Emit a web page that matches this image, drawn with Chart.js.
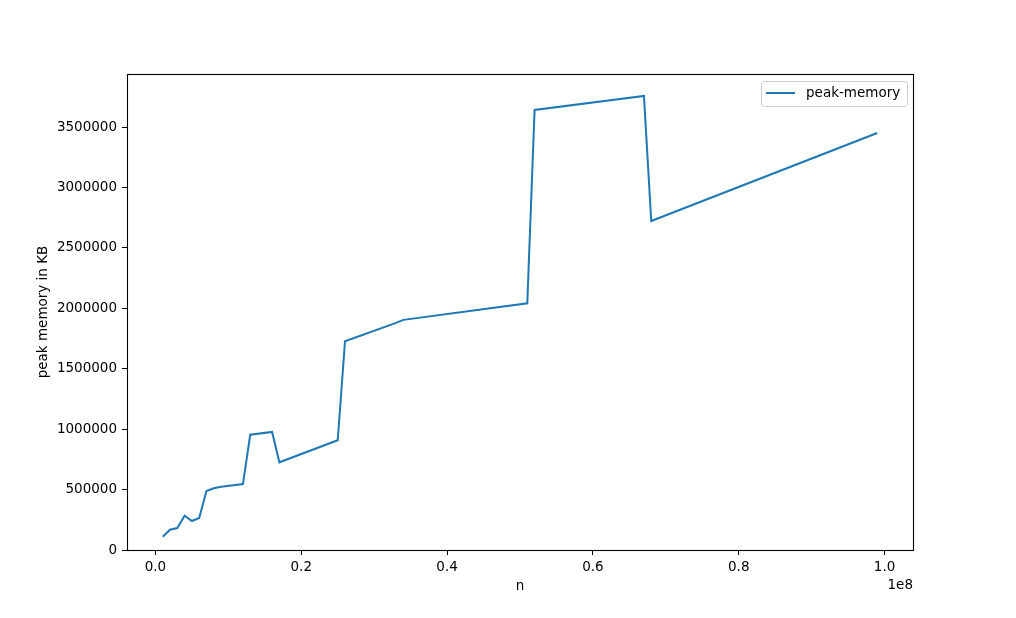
<!DOCTYPE html>
<html>
<head>
<meta charset="utf-8">
<script src="https://cdn.jsdelivr.net/npm/chart.js@4"></script>
<style>
  html, body { margin: 0; padding: 0; background: #fff; }
  canvas { display: block; }
</style>
</head>
<body>
<canvas id="memChart" width="1016" height="618"></canvas>
<script>
// values
const nValues = [1e6, 2e6, 3e6, 4e6, 5e6, 6e6, 7e6, 8e6, 9e6, 12e6, 13e6, 16e6, 17e6,
  25e6, 26e6, 33e6, 34e6, 51e6, 52e6, 67e6, 68e6, 99e6];
const peakMemory = [110000, 168000, 182000, 284000, 240000, 265000, 488000, 511000, 524000,
  546000, 954000, 977000, 726000, 908000, 1728000, 1880000, 1905000, 2042000, 3642000,
  3758000, 2723000, 3452000];
const xTicks = [0, 2e7, 4e7, 6e7, 8e7, 1e8];
const xTickLabels = ['0.0', '0.2', '0.4', '0.6', '0.8', '1.0'];
const yTicks = [0, 500000, 1000000, 1500000, 2000000, 2500000, 3000000, 3500000];
const seriesLabel = 'peak-memory';

const lineColor = '#1f77b4';
const font = { family: 'DejaVu Sans', size: 13.5 };

let ctx = document.getElementById('memChart').getContext('2d');

// box around the plot, the "1e8" offset text and the matplotlib-style legend
const framePlugin = {
  id: 'frame',
  afterDraw(chart) {
    const c = chart.ctx;
    const a = chart.chartArea;
    c.save();
    c.strokeStyle = '#000';
    c.lineWidth = 1.1;
    c.strokeRect(Math.round(a.left) + 0.5, Math.round(a.top) + 0.5,
      Math.round(a.right - a.left), Math.round(a.bottom - a.top));

    c.fillStyle = '#000';
    c.font = '13.5px "DejaVu Sans"';
    c.textAlign = 'right';
    c.textBaseline = 'middle';
    c.fillText('1e8', a.right, 585);

    // legend
    const bx = a.right - 152, by = a.top + 7, bw = 146, bh = 25;
    c.fillStyle = 'rgba(255,255,255,0.8)';
    c.strokeStyle = '#cccccc';
    c.lineWidth = 1;
    c.beginPath();
    c.roundRect(bx + 0.5, by + 0.5, bw, bh, 3);
    c.fill();
    c.stroke();
    c.strokeStyle = lineColor;
    c.lineWidth = 2;
    c.beginPath();
    c.moveTo(bx + 5, by + 12);
    c.lineTo(bx + 34, by + 12);
    c.stroke();
    c.fillStyle = '#000';
    c.textAlign = 'left';
    c.fillText(seriesLabel, bx + 45, by + 12.5);
    c.restore();
  }
};

new Chart(ctx, {
  type: 'line',
  data: {
    datasets: [{
      label: seriesLabel,
      data: nValues.map((n, i) => ({ x: n, y: peakMemory[i] })),
      borderColor: lineColor,
      borderWidth: 2,
      pointRadius: 0,
      tension: 0,
      fill: false
    }]
  },
  options: {
    responsive: false,
    animation: false,
    layout: { padding: { top: 74, right: 103, left: 0, bottom: 0 } },
    plugins: {
      legend: { display: false },
      tooltip: { enabled: false }
    },
    scales: {
      x: {
        type: 'linear',
        min: -3.9e6,
        max: 103.9e6,
        afterBuildTicks: (scale) => { scale.ticks = xTicks.map(v => ({ value: v })); },
        afterFit: (scale) => { scale.height = 68; },
        ticks: {
          color: '#000',
          font: font,
          padding: 4,
          maxRotation: 0,
          autoSkip: false,
          callback: (v, i) => xTickLabels[i]
        },
        grid: { drawOnChartArea: false, drawTicks: true, tickLength: 5, color: '#000', lineWidth: 1 },
        border: { display: true, color: '#000', width: 1 },
        title: { display: true, text: 'n', color: '#000', font: font, padding: { top: 0, bottom: 23 } }
      },
      y: {
        min: 0,
        max: 3940000,
        afterBuildTicks: (scale) => { scale.ticks = yTicks.map(v => ({ value: v })); },
        afterFit: (scale) => { scale.width = 127; },
        ticks: {
          color: '#000',
          font: font,
          padding: 5,
          autoSkip: false,
          callback: (v) => String(v)
        },
        grid: { drawOnChartArea: false, drawTicks: true, tickLength: 5, color: '#000', lineWidth: 1 },
        border: { display: true, color: '#000', width: 1 },
        title: { display: true, text: 'peak memory in KB', color: '#000', font: font, padding: { top: 35, bottom: 0 } }
      }
    }
  },
  plugins: [framePlugin]
});
</script>
</body>
</html>
